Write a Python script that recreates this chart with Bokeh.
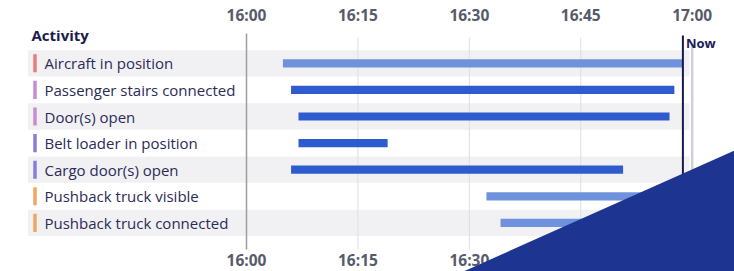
from bokeh.plotting import figure
from bokeh.models import Range1d, LinearAxis, FixedTicker, ColumnDataSource
from bokeh.core.properties import value
from bokeh.embed import file_html
from bokeh.resources import INLINE

# ---- data (minutes after 16:00) ----
activities = ["Aircraft in position", "Passenger stairs connected", "Door(s) open",
              "Belt loader in position", "Cargo door(s) open",
              "Pushback truck visible", "Pushback truck connected"]
start_min = [4.9, 6.0, 7.0, 7.0, 6.0, 32.3, 34.2]
end_min = [58.75, 57.6, 56.95, 19.0, 50.7, 58.75, 58.75]
ongoing = [True, False, False, False, False, True, True]
group_colors = ["#e67c7c", "#c98bd3", "#c98bd3", "#8a7bdc", "#8a7bdc", "#f2a462", "#f2a462"]
now_min = 58.75
tick_min = [0, 15, 30, 45, 60]
tick_labels = ["16:00", "16:15", "16:30", "16:45", "17:00"]

# ---- layout helpers (canvas pixel -> data) ----
PX0, PPM = 246.0, 7.428            # canvas x of 16:00, pixels per minute
RY0, RH = 62.8, 26.6               # canvas y of first row centre, row pitch
W, H = 734, 271
TOP = 30

def xd(px):
    return (px - PX0) / PPM

def yd(py):
    return (py - RY0) / RH

p = figure(width=W, height=H, output_backend="svg", toolbar_location=None,
           x_range=Range1d(xd(0), xd(W)), y_range=Range1d(yd(H), yd(TOP)),
           x_axis_location=None, y_axis_location=None,
           min_border_left=0, min_border_right=0, min_border_top=TOP, min_border_bottom=0)
p.xgrid.visible = False
p.ygrid.visible = False
p.outline_line_color = None
p.background_fill_color = "white"
p.border_fill_color = "white"

ax = LinearAxis(ticker=FixedTicker(ticks=tick_min),
                major_label_overrides={t: l for t, l in zip(tick_min, tick_labels)})
ax.axis_line_color = None
ax.major_tick_line_color = None
ax.minor_tick_line_color = None
ax.major_tick_out = 0
ax.major_tick_in = 0
ax.minor_tick_out = 0
ax.major_label_text_font = "Open Sans"
ax.major_label_text_font_style = "bold"
ax.major_label_text_font_size = "15.5px"
ax.major_label_text_color = "#575a6a"
ax.major_label_standoff = 5
p.add_layout(ax, "above")

rows = list(range(len(activities)))

# alternating row bands
band_rows = [r for r in rows if r % 2 == 0]
p.hbar(y=band_rows, left=xd(27.5), right=xd(689), height=0.99,
       color="#f1f1f4", line_color=None)

# vertical grid lines
p.segment(x0=tick_min[1:4], x1=tick_min[1:4], y0=yd(37), y1=yd(249),
          line_color="#dedee2", line_width=1)
p.segment(x0=[tick_min[0]], x1=[tick_min[0]], y0=yd(33), y1=yd(249),
          line_color="#9c9ca4", line_width=1.5)
p.segment(x0=[tick_min[-1]], x1=[tick_min[-1]], y0=yd(43), y1=yd(249),
          line_color="#d0d0d6", line_width=2.5)

# bars
src = ColumnDataSource(dict(
    y=rows, left=start_min, right=end_min,
    color=["#6e93dc" if o else "#2e5ccf" for o in ongoing]))
p.hbar(y="y", left="left", right="right", height=0.31, color="color", line_color=None, source=src)

# now line
p.segment(x0=[now_min], x1=[now_min], y0=yd(35), y1=yd(249),
          line_color="#17194e", line_width=2)
p.text(x=[now_min], y=[yd(42.5)], text=["Now"], x_offset=3,
       text_font=value("Open Sans"), text_font_style="bold", text_font_size="13px",
       text_color="#1c2058", text_baseline="middle", text_align="left")

# labels and colour markers
p.rect(x=[xd(34.5)] * len(rows), y=rows, width=3.5, height=0.68, width_units="screen",
       color=group_colors, line_color=None)
p.text(x=[xd(44)] * len(rows), y=rows, text=activities,
       text_font=value("Open Sans"), text_font_size="15px", text_color="#2b2b57",
       text_baseline="middle", text_align="left")
p.text(x=[xd(31)], y=[yd(34.5)], text=["Activity"],
       text_font=value("Open Sans"), text_font_style="bold", text_font_size="15px",
       text_color="#1c1c4c", text_baseline="middle", text_align="left")

# bottom time labels (same ticks as the top axis)
p.text(x=tick_min, y=[yd(259)] * len(tick_min), text=tick_labels,
       text_font=value("Open Sans"), text_font_style="bold", text_font_size="15.5px",
       text_color="#575a6a", text_baseline="middle", text_align="center")

# decorative corner triangle (overlays the chart, as in the original slide)
p.patch(x=[xd(442.8), xd(740), xd(740)], y=[yd(280), yd(147.3), yd(280)],
        fill_color="#1d3590", line_color=None)

open("out.html", "w").write(file_html(p, INLINE))
